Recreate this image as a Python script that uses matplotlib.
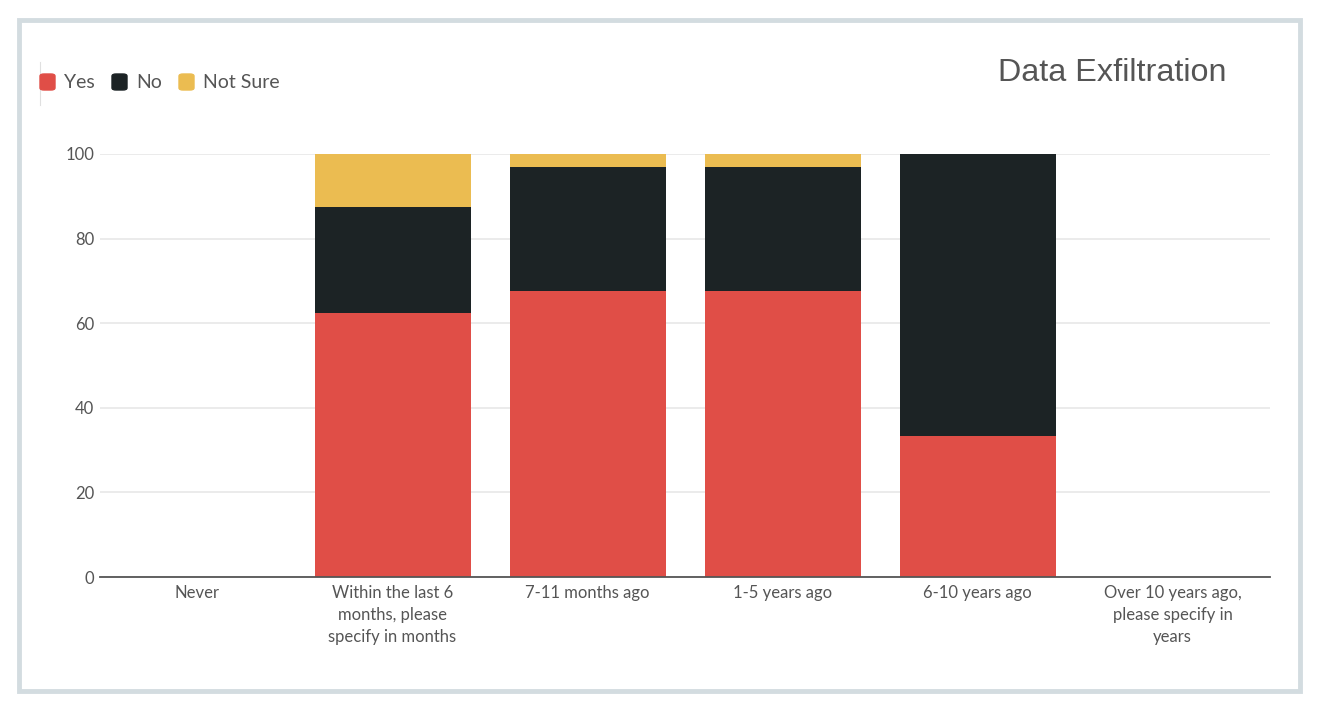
import matplotlib.pyplot as plt
from matplotlib.patches import Rectangle, FancyBboxPatch
import numpy as np

plt.rcParams['font.family'] = ['Lato', 'DejaVu Sans']

categories = ['Never', 'Within the last 6\nmonths, please\nspecify in months', '7-11 months ago',
              '1-5 years ago', '6-10 years ago', 'Over 10 years ago,\nplease specify in\nyears']
yes = [0, 62.5, 67.5, 67.5, 33.3, 0]
no = [0, 25.0, 29.5, 29.5, 66.7, 0]
not_sure = [0, 12.5, 3.0, 3.0, 0, 0]

c_yes = '#e04e47'
c_no = '#1c2325'
c_ns = '#ebbc51'

fig = plt.figure(figsize=(13.18, 7.10), dpi=100)
ax = fig.add_axes([100/1318, 1-577/710, 1170/1318, 423/710])

x = np.arange(len(categories))
w = 0.8
ax.bar(x, yes, w, color=c_yes, zorder=2)
ax.bar(x, no, w, bottom=yes, color=c_no, zorder=2)
ax.bar(x, not_sure, w, bottom=np.array(yes) + np.array(no), color=c_ns, zorder=2)

ax.set_xlim(-0.5, len(categories) - 0.5)
ax.set_ylim(0, 100)
ax.set_yticks([0, 20, 40, 60, 80, 100])
ax.set_xticks(x)
ax.set_xticklabels(categories, fontsize=12, color='#555555', linespacing=1.45, va='top')
ax.tick_params(axis='y', length=0, labelsize=12, labelcolor='#555555', pad=4)
ax.tick_params(axis='x', length=0, pad=6)
ax.grid(axis='y', color='#e8e8e8', linewidth=1.2, zorder=0)
for s in ['left', 'right', 'top']:
    ax.spines[s].set_visible(False)
ax.spines['bottom'].set_color('#555555')
ax.spines['bottom'].set_linewidth(1.3)
ax.spines['bottom'].set_zorder(3)

fig.text(998/1318, 1-73/710, 'Data Exfiltration', fontsize=23.3, color='#555555', va='center', ha='left',
         family=['Liberation Sans', 'DejaVu Sans'])

# legend
items = [('Yes', c_yes, 40), ('No', c_no, 112), ('Not Sure', c_ns, 179)]
for label, col, px in items:
    fig.patches.append(FancyBboxPatch((px/1318, 1-90/710), 15/1318, 16/710,
                                      boxstyle='round,pad=0,rounding_size=0.003',
                                      transform=fig.transFigure, color=col, zorder=5))
    fig.text((px + 24)/1318, 1-82/710, label, fontsize=14, color='#555555', va='center', ha='left')
fig.lines.append(plt.Line2D([40/1318, 40/1318], [1-62/710, 1-105/710], transform=fig.transFigure,
                            color='#e0e0e0', linewidth=0.8))

# outer frame
fig.patches.append(Rectangle((19/1318, 1-691/710), 1281/1318, 671/710, transform=fig.transFigure,
                             fill=False, edgecolor='#d3dce0', linewidth=3.5, zorder=0))

fig.savefig('out.png', dpi=100)
